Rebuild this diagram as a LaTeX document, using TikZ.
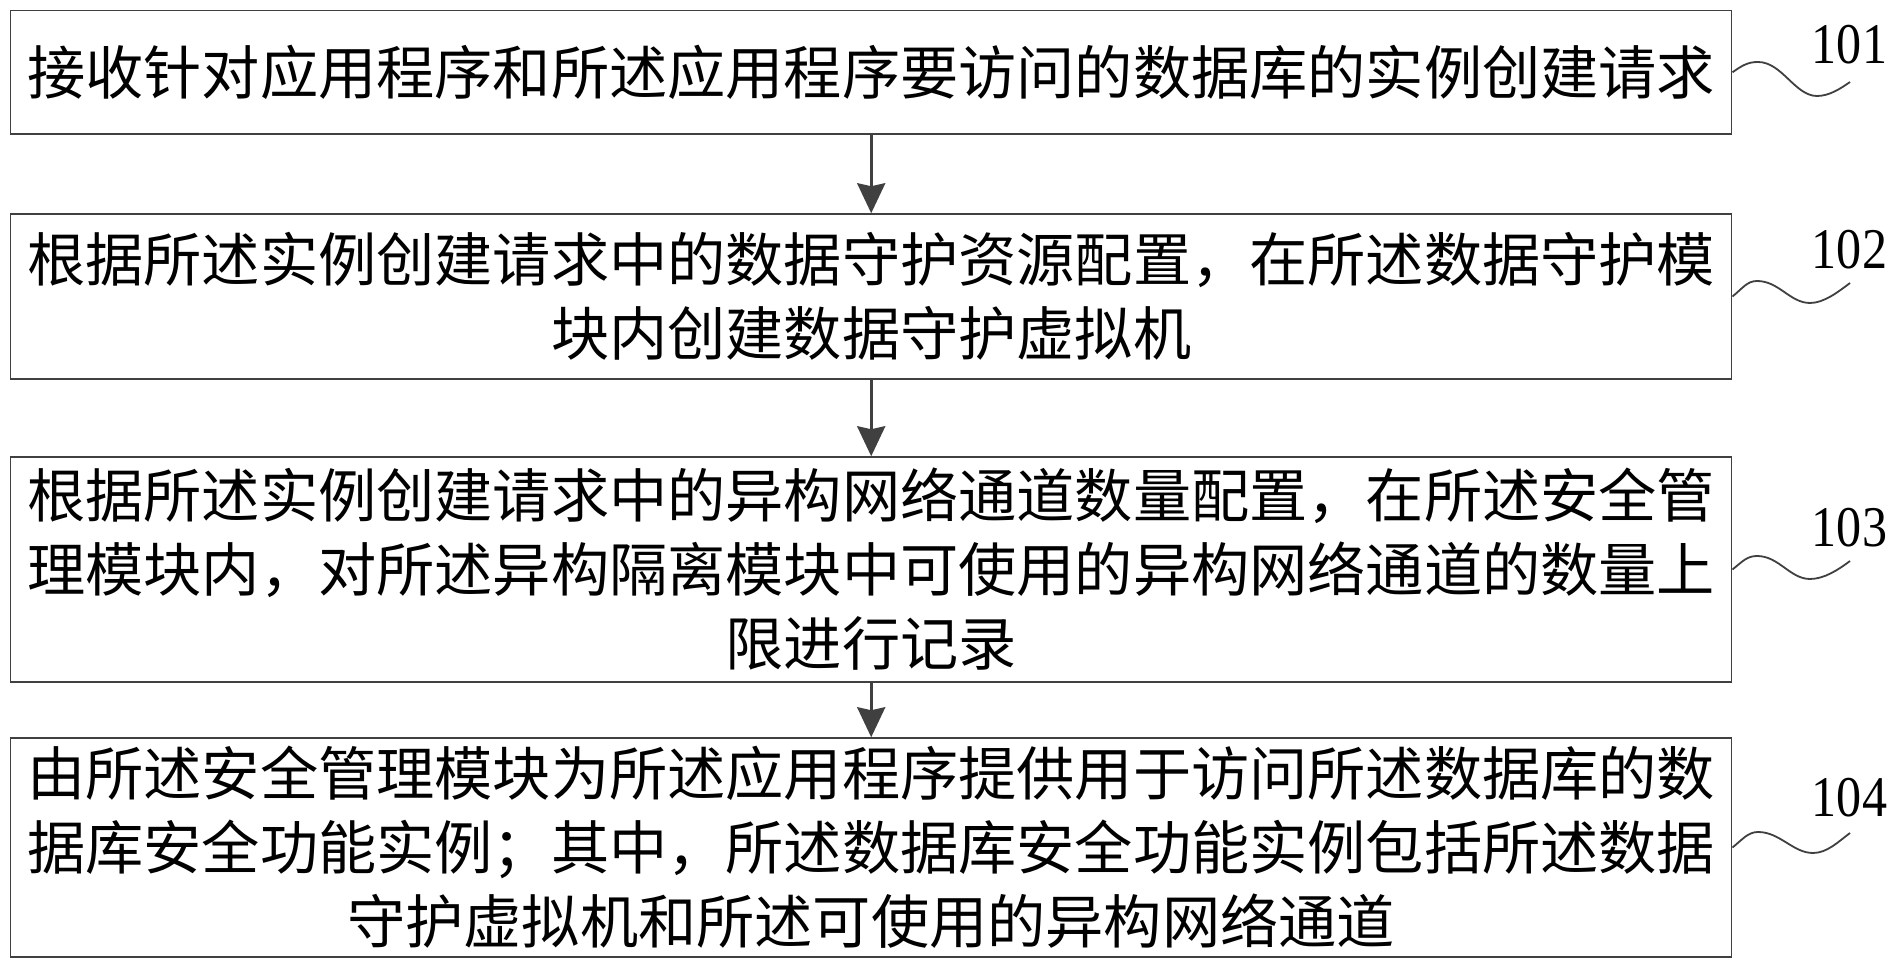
\documentclass[tikz,border=0pt]{standalone}
\usepackage{fontspec}
\usepackage{graphicx}
\newfontfamily\cjk{Noto Sans CJK SC}
\newfontfamily\numfont{Liberation Serif}
\usetikzlibrary{arrows.meta}
\definecolor{lc}{HTML}{404040}
\begin{document}
\begin{tikzpicture}[x=0.5pt,y=-0.5pt,
  stepbox/.style={draw=lc,line width=0.75pt,inner sep=0pt,minimum width=860.5pt,align=center,
    font=\cjk\fontsize{29.1pt}{37pt}\selectfont},
  arr/.style={draw=lc,line width=1.5pt,-{Stealth[length=15pt,width=14pt,inset=1.5pt]}},
  wave/.style={draw=lc,line width=0.9pt},
  lbl/.style={inner sep=0pt,font=\numfont\fontsize{28.8pt}{30pt}\selectfont}]
\useasboundingbox[fill=white] (0,0) rectangle (1902,967);

\node[stepbox,minimum height=61.65pt] (b1) at (871.2,72.3)
  {接收针对应用程序和所述应用程序要访问的数据库的实例创建请求};
\node[stepbox,minimum height=82.5pt] (b2) at (871.2,296.5)
  {根据所述实例创建请求中的数据守护资源配置，在所述数据守护模\\块内创建数据守护虚拟机};
\node[stepbox,minimum height=112.5pt] (b3) at (871.2,569.5)
  {根据所述实例创建请求中的异构网络通道数量配置，在所述安全管\\理模块内，对所述异构隔离模块中可使用的异构网络通道的数量上\\限进行记录};
\node[stepbox,minimum height=109.5pt] (b4) at (871.2,847.5)
  {由所述安全管理模块为所述应用程序提供用于访问所述数据库的数\\据库安全功能实例；其中，所述数据库安全功能实例包括所述数据\\守护虚拟机和所述可使用的异构网络通道};

\draw[arr] (b1) -- (b2);
\draw[arr] (b2) -- (b3);
\draw[arr] (b3) -- (b4);

\node[lbl] (l1) at (1849.5,44.5) {\scalebox{0.87}[1]{101}};
\node[lbl] (l2) at (1849.5,249.5) {\scalebox{0.87}[1]{102}};
\node[lbl] (l3) at (1849.5,527.5) {\scalebox{0.87}[1]{103}};
\node[lbl] (l4) at (1849.5,798) {\scalebox{0.87}[1]{104}};

\coordinate (p1) at (1758,62);  \coordinate (t1) at (1817,96);  \coordinate (e1) at (1850,82);
\coordinate (p2) at (1757,281); \coordinate (t2) at (1810,303); \coordinate (e2) at (1850,283);
\coordinate (p3) at (1757,556); \coordinate (t3) at (1810,579); \coordinate (e3) at (1850,561);
\coordinate (p4) at (1758,832); \coordinate (t4) at (1813,853); \coordinate (e4) at (1850,833);

\draw[wave] (b1.east) .. controls +(10,-7) and +(-10,0) .. (p1)
  .. controls +(24,0) and +(-22,0) .. (t1) .. controls +(12,0) and +(-10,7) .. (e1);
\draw[wave] (b2.east) .. controls +(10,-8) and +(-10,0) .. (p2)
  .. controls +(22,0) and +(-20,0) .. (t2) .. controls +(14,0) and +(-12,9) .. (e2);
\draw[wave] (b3.east) .. controls +(10,-8) and +(-10,0) .. (p3)
  .. controls +(22,0) and +(-20,0) .. (t3) .. controls +(14,0) and +(-12,9) .. (e3);
\draw[wave] (b4.east) .. controls +(10,-8) and +(-10,0) .. (p4)
  .. controls +(22,0) and +(-20,0) .. (t4) .. controls +(14,0) and +(-12,9) .. (e4);
\end{tikzpicture}
\end{document}
